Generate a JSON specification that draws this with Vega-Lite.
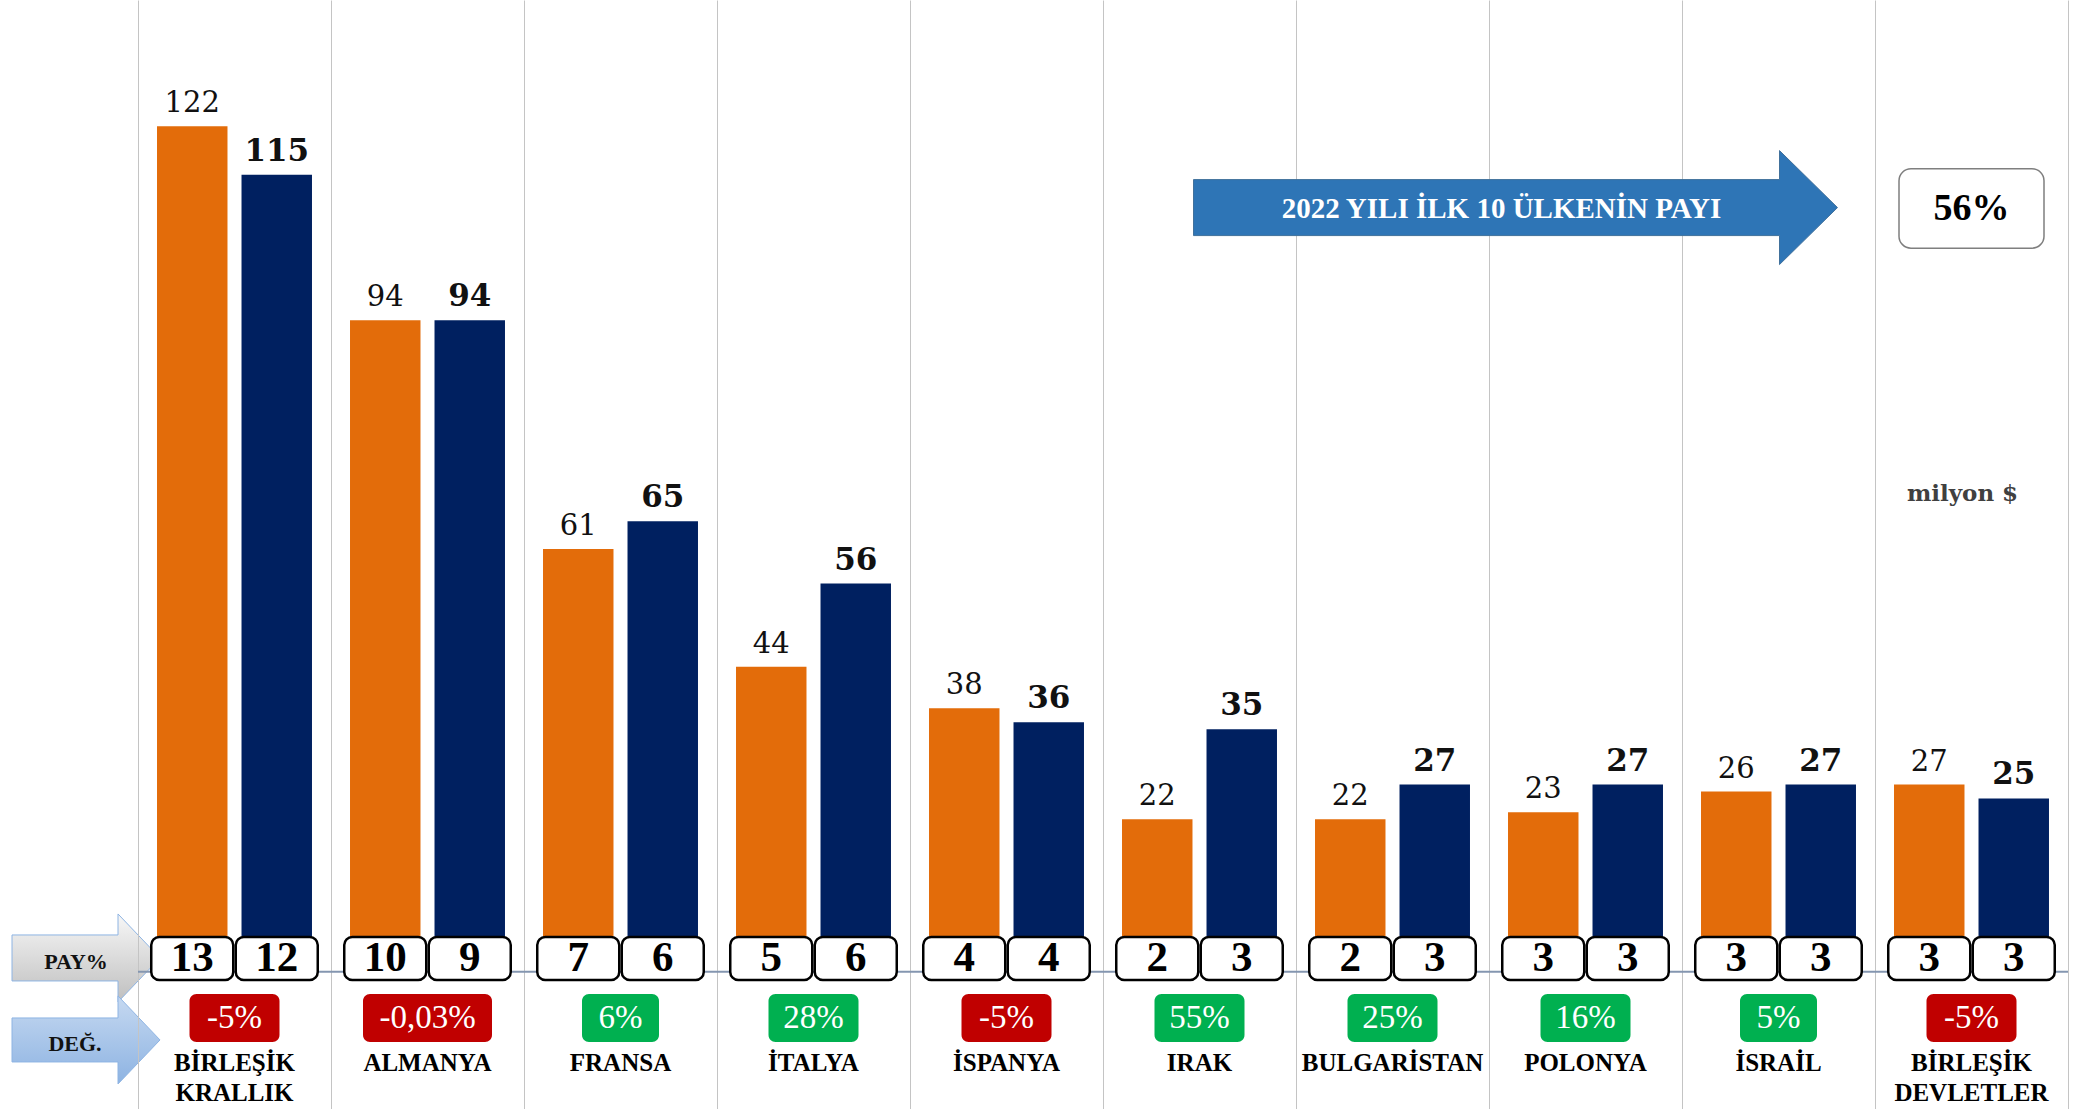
{
  "$schema": "https://vega.github.io/schema/vega-lite/v6.json",
  "padding": 0,
  "spacing": 0,
  "bounds": "flush",
  "background": "white",
  "config": {"view": {"stroke": null}, "text": {"font": "Liberation Serif"}},
  "resolve": {"scale": {"x": "independent", "y": "independent"}},
  "datasets": {
    "ihracat": [
      {"ulke": "BİRLEŞİK KRALLIK", "yil": "2021", "deger": 122, "pay": 13},
      {"ulke": "BİRLEŞİK KRALLIK", "yil": "2022", "deger": 115, "pay": 12},
      {"ulke": "ALMANYA", "yil": "2021", "deger": 94, "pay": 10},
      {"ulke": "ALMANYA", "yil": "2022", "deger": 94, "pay": 9},
      {"ulke": "FRANSA", "yil": "2021", "deger": 61, "pay": 7},
      {"ulke": "FRANSA", "yil": "2022", "deger": 65, "pay": 6},
      {"ulke": "İTALYA", "yil": "2021", "deger": 44, "pay": 5},
      {"ulke": "İTALYA", "yil": "2022", "deger": 56, "pay": 6},
      {"ulke": "İSPANYA", "yil": "2021", "deger": 38, "pay": 4},
      {"ulke": "İSPANYA", "yil": "2022", "deger": 36, "pay": 4},
      {"ulke": "IRAK", "yil": "2021", "deger": 22, "pay": 2},
      {"ulke": "IRAK", "yil": "2022", "deger": 35, "pay": 3},
      {"ulke": "BULGARİSTAN", "yil": "2021", "deger": 22, "pay": 2},
      {"ulke": "BULGARİSTAN", "yil": "2022", "deger": 27, "pay": 3},
      {"ulke": "POLONYA", "yil": "2021", "deger": 23, "pay": 3},
      {"ulke": "POLONYA", "yil": "2022", "deger": 27, "pay": 3},
      {"ulke": "İSRAİL", "yil": "2021", "deger": 26, "pay": 3},
      {"ulke": "İSRAİL", "yil": "2022", "deger": 27, "pay": 3},
      {"ulke": "BİRLEŞİK DEVLETLER", "yil": "2021", "deger": 27, "pay": 3},
      {"ulke": "BİRLEŞİK DEVLETLER", "yil": "2022", "deger": 25, "pay": 3}
    ],
    "degisim": [
      {"ulke": "BİRLEŞİK KRALLIK", "deg": "-5%"},
      {"ulke": "ALMANYA", "deg": "-0,03%"},
      {"ulke": "FRANSA", "deg": "6%"},
      {"ulke": "İTALYA", "deg": "28%"},
      {"ulke": "İSPANYA", "deg": "-5%"},
      {"ulke": "IRAK", "deg": "55%"},
      {"ulke": "BULGARİSTAN", "deg": "25%"},
      {"ulke": "POLONYA", "deg": "16%"},
      {"ulke": "İSRAİL", "deg": "5%"},
      {"ulke": "BİRLEŞİK DEVLETLER", "deg": "-5%"}
    ]
  },
  "hconcat": [
    {
      "width": 138,
      "height": 1109,
      "data": {"values": [{"etiket": "PAY%"}]},
      "layer": [
        {
          "mark": {"type": "point", "shape": "M-57,-23L49,-23L49,-44L91,0L49,44L49,23L-57,23Z", "size": 4, "filled": true, "opacity": 1,
            "fill": {"gradient": "linear", "x1": 0, "y1": 0, "x2": 0, "y2": 1, "stops": [{"offset": 0, "color": "#F7F7F7"}, {"offset": 1, "color": "#BFBFBF"}]},
            "stroke": "#8EB4E3", "strokeWidth": 1},
          "encoding": {"y": {"datum": 1.99, "type": "quantitative", "scale": {"domain": [-19.8, 140.2], "nice": false, "zero": false}, "axis": null}}
        },
        {
          "mark": {"type": "point", "shape": "M-57,-22L49,-22L49,-44L91,0L49,44L49,22L-57,22Z", "size": 4, "filled": true, "opacity": 1,
            "fill": {"gradient": "linear", "x1": 0, "y1": 0, "x2": 0, "y2": 1, "stops": [{"offset": 0, "color": "#C6D9F1"}, {"offset": 1, "color": "#8DB3E2"}]},
            "stroke": "#8EB4E3", "strokeWidth": 1},
          "encoding": {"y": {"datum": -9.84, "type": "quantitative"}}
        },
        {
          "mark": {"type": "text", "fontWeight": "bold", "fontSize": 22, "dx": 7, "baseline": "middle", "color": "#111111"},
          "encoding": {"y": {"datum": 1.41, "type": "quantitative"}, "text": {"value": "PAY%"}}
        },
        {
          "mark": {"type": "text", "fontWeight": "bold", "fontSize": 22, "dx": 6, "baseline": "middle", "color": "#111111"},
          "encoding": {"y": {"datum": -10.4, "type": "quantitative"}, "text": {"value": "DEĞ."}}
        }
      ]
    },
    {
      "width": 1930,
      "height": 1109,
      "encoding": {
        "x": {"field": "ulke", "type": "nominal",
          "scale": {"domain": ["BİRLEŞİK KRALLIK", "ALMANYA", "FRANSA", "İTALYA", "İSPANYA", "IRAK", "BULGARİSTAN", "POLONYA", "İSRAİL", "BİRLEŞİK DEVLETLER"], "paddingInner": 0, "paddingOuter": 0},
          "axis": {"grid": true, "bandPosition": 0, "gridColor": "#C4C4C4", "gridWidth": 1, "labels": false, "ticks": false, "domain": false, "title": null}}
      },
      "layer": [
        {
          "data": {"values": [{}]},
          "mark": {"type": "rule", "color": "#8496B0", "strokeWidth": 2},
          "encoding": {"x": null, "y": {"datum": 0, "type": "quantitative", "scale": {"domain": [-19.8, 140.2], "nice": false, "zero": false},
            "axis": {"orient": "right", "domain": true, "domainColor": "#C4C4C4", "labels": false, "ticks": false, "grid": false, "title": null}}}
        },
        {
          "data": {"name": "ihracat"},
          "mark": {"type": "bar"},
          "encoding": {
            "xOffset": {"field": "yil", "type": "nominal", "scale": {"domain": ["2021", "2022"], "paddingInner": 0.166, "paddingOuter": 0.225}},
            "y": {"field": "deger", "type": "quantitative"},
            "color": {"field": "yil", "type": "nominal", "scale": {"domain": ["2021", "2022"], "range": ["#E36C0A", "#002060"]}, "legend": null}
          }
        },
        {
          "data": {"name": "ihracat"},
          "transform": [{"filter": "datum.yil === '2021'"}],
          "mark": {"type": "text", "font": "DejaVu Serif", "fontSize": 29, "baseline": "alphabetic", "dy": -14, "color": "#111111"},
          "encoding": {
            "xOffset": {"field": "yil", "type": "nominal"},
            "y": {"field": "deger", "type": "quantitative"},
            "text": {"field": "deger", "type": "quantitative"}
          }
        },
        {
          "data": {"name": "ihracat"},
          "transform": [{"filter": "datum.yil === '2022'"}],
          "mark": {"type": "text", "font": "DejaVu Serif", "fontWeight": "bold", "fontSize": 31, "baseline": "alphabetic", "dy": -14, "color": "#111111"},
          "encoding": {
            "xOffset": {"field": "yil", "type": "nominal"},
            "y": {"field": "deger", "type": "quantitative"},
            "text": {"field": "deger", "type": "quantitative"}
          }
        },
        {
          "data": {"name": "ihracat"},
          "mark": {"type": "bar", "width": 82, "fill": "white", "stroke": "black", "strokeWidth": 2.5, "cornerRadius": 8},
          "encoding": {
            "xOffset": {"field": "yil", "type": "nominal"},
            "y": {"datum": 5.0, "type": "quantitative"},
            "y2": {"datum": -1.2}
          }
        },
        {
          "data": {"name": "ihracat"},
          "mark": {"type": "text", "fontWeight": "bold", "fontSize": 43, "baseline": "middle", "color": "black"},
          "encoding": {
            "xOffset": {"field": "yil", "type": "nominal"},
            "y": {"datum": 1.99, "type": "quantitative"},
            "text": {"field": "pay", "type": "quantitative"}
          }
        },
        {
          "data": {"name": "degisim"},
          "transform": [{"calculate": "length(datum.deg)", "as": "uzunluk"}],
          "mark": {"type": "bar", "cornerRadius": 7},
          "encoding": {
            "y": {"datum": -3.2, "type": "quantitative"},
            "y2": {"datum": -10.13},
            "size": {"field": "uzunluk", "type": "quantitative", "scale": {"type": "linear", "domain": [2, 6], "range": [77, 129], "zero": false}, "legend": null},
            "color": {"condition": {"test": "substring(datum.deg, 0, 1) === '-'", "value": "#C00000"}, "value": "#00B050"}
          }
        },
        {
          "data": {"name": "degisim"},
          "mark": {"type": "text", "fontSize": 33, "baseline": "middle", "color": "white"},
          "encoding": {
            "y": {"datum": -6.67, "type": "quantitative"},
            "text": {"field": "deg", "type": "nominal"}
          }
        },
        {
          "data": {"name": "degisim"},
          "mark": {"type": "text", "fontWeight": "bold", "fontSize": 25, "baseline": "top", "lineBreak": " ", "lineHeight": 30, "color": "black"},
          "encoding": {
            "y": {"datum": -11.43, "type": "quantitative"},
            "text": {"field": "ulke", "type": "nominal"}
          }
        },
        {
          "data": {"values": [{}]},
          "mark": {"type": "point", "shape": "M-392,-28L194,-28L194,-57L252,0L194,57L194,28L-392,28Z", "size": 4, "filled": true, "opacity": 1, "fill": "#2E75B6", "stroke": "#41719C", "strokeWidth": 1},
          "encoding": {"x": {"datum": "POLONYA"}, "y": {"datum": 110.25, "type": "quantitative"}}
        },
        {
          "data": {"values": [{}]},
          "mark": {"type": "text", "fontWeight": "bold", "fontSize": 29, "baseline": "middle", "dx": -84, "color": "white"},
          "encoding": {"x": {"datum": "POLONYA"}, "y": {"datum": 110.0, "type": "quantitative"}, "text": {"value": "2022 YILI İLK 10 ÜLKENİN PAYI"}}
        },
        {
          "data": {"values": [{}]},
          "mark": {"type": "bar", "width": 145, "fill": "white", "stroke": "#7F7F7F", "strokeWidth": 1.5, "cornerRadius": 12},
          "encoding": {"x": {"datum": "BİRLEŞİK DEVLETLER"}, "y": {"datum": 115.85, "type": "quantitative"}, "y2": {"datum": 104.4}}
        },
        {
          "data": {"values": [{}]},
          "mark": {"type": "text", "fontWeight": "bold", "fontSize": 38, "baseline": "middle", "color": "black"},
          "encoding": {"x": {"datum": "BİRLEŞİK DEVLETLER"}, "y": {"datum": 110.1, "type": "quantitative"}, "text": {"value": "56%"}}
        },
        {
          "data": {"values": [{}]},
          "mark": {"type": "text", "font": "DejaVu Serif", "fontWeight": "bold", "fontSize": 23, "baseline": "middle", "dx": -9, "color": "#404040"},
          "encoding": {"x": {"datum": "BİRLEŞİK DEVLETLER"}, "y": {"datum": 68.9, "type": "quantitative"}, "text": {"value": "milyon $"}}
        }
      ]
    }
  ]
}
